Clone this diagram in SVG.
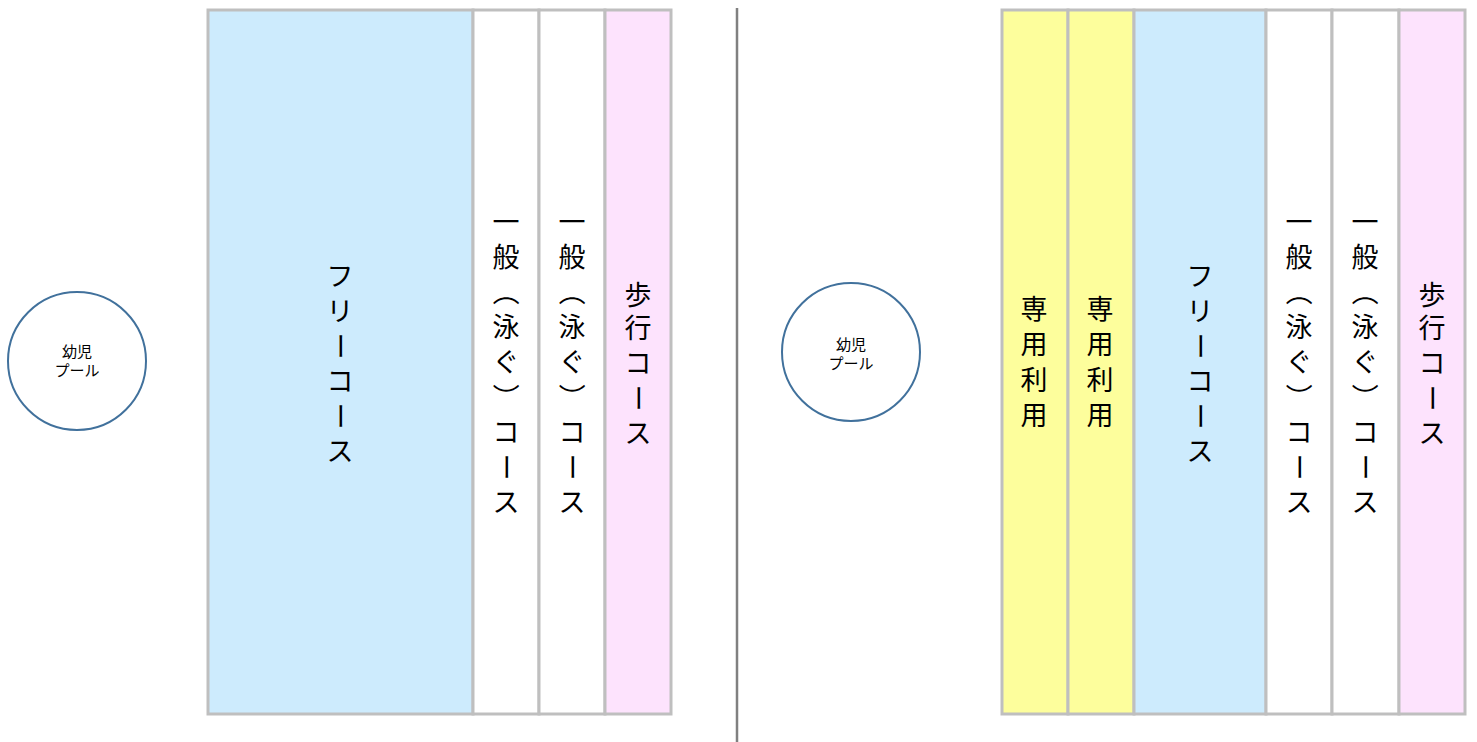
<svg xmlns="http://www.w3.org/2000/svg" width="1477" height="742" viewBox="0 0 1477 742">
<style>
.lane{stroke:#bfbfbf;stroke-width:3}
.blue{fill:#cdebfd}.white{fill:#ffffff}.pink{fill:#fde3fd}.yellow{fill:#fdfe9c}
.c{font-family:"Noto Sans CJK JP","Noto Sans",sans-serif;font-size:27px;fill:#000;text-anchor:middle}
.pool{fill:#fff;stroke:#41719c;stroke-width:2}
.pt{font-family:"Noto Sans CJK JP","Noto Sans",sans-serif;font-size:15px;fill:#000;text-anchor:middle}
</style>
<rect width="1477" height="742" fill="#fff"/>
<g id="left-kids-pool">
<circle class="pool" cx="77" cy="361" r="69"/>
<text class="pt" x="77" y="357">幼児</text>
<text class="pt" x="77" y="376">プール</text>
</g>
<g id="left-free"><rect class="lane blue" x="208" y="10" width="265" height="704"/>
<text class="c" x="340" y="286">フ</text><text class="c" x="340" y="321">リ</text><text class="c" x="340" y="356" transform="rotate(90 340 346)">ー</text><text class="c" x="340" y="391">コ</text><text class="c" x="340" y="426" transform="rotate(90 340 416)">ー</text><text class="c" x="340" y="461">ス</text>
</g>
<g id="left-general1"><rect class="lane white" x="473" y="10" width="66" height="704"/>
<text class="c" x="506" y="232">一</text><text class="c" x="506" y="267">般</text><text class="c" x="506" y="302" transform="rotate(90 506 292)">（</text><text class="c" x="506" y="337">泳</text><text class="c" x="506" y="372">ぐ</text><text class="c" x="506" y="407" transform="rotate(90 506 397)">）</text><text class="c" x="506" y="442">コ</text><text class="c" x="506" y="477" transform="rotate(90 506 467)">ー</text><text class="c" x="506" y="512">ス</text>
</g>
<g id="left-general2"><rect class="lane white" x="539" y="10" width="66" height="704"/>
<text class="c" x="572" y="232">一</text><text class="c" x="572" y="267">般</text><text class="c" x="572" y="302" transform="rotate(90 572 292)">（</text><text class="c" x="572" y="337">泳</text><text class="c" x="572" y="372">ぐ</text><text class="c" x="572" y="407" transform="rotate(90 572 397)">）</text><text class="c" x="572" y="442">コ</text><text class="c" x="572" y="477" transform="rotate(90 572 467)">ー</text><text class="c" x="572" y="512">ス</text>
</g>
<g id="left-walk"><rect class="lane pink" x="605" y="10" width="66" height="704"/>
<text class="c" x="638" y="305">歩</text><text class="c" x="638" y="338">行</text><text class="c" x="638" y="373">コ</text><text class="c" x="638" y="408" transform="rotate(90 638 398)">ー</text><text class="c" x="638" y="443">ス</text>
</g>
<g id="divider"><line x1="737" y1="8" x2="737" y2="742" stroke="#808080" stroke-width="2.5"/></g>
<g id="right-kids-pool">
<circle class="pool" cx="851" cy="352" r="69"/>
<text class="pt" x="851" y="350">幼児</text>
<text class="pt" x="851" y="369">プール</text>
</g>
<g id="right-private1"><rect class="lane yellow" x="1002" y="10" width="66" height="704"/>
<text class="c" x="1034" y="319">専</text><text class="c" x="1034" y="354">用</text><text class="c" x="1034" y="390">利</text><text class="c" x="1034" y="425">用</text>
</g>
<g id="right-private2"><rect class="lane yellow" x="1068" y="10" width="66" height="704"/>
<text class="c" x="1100" y="319">専</text><text class="c" x="1100" y="354">用</text><text class="c" x="1100" y="390">利</text><text class="c" x="1100" y="425">用</text>
</g>
<g id="right-free"><rect class="lane blue" x="1134" y="10" width="132" height="704"/>
<text class="c" x="1200" y="286">フ</text><text class="c" x="1200" y="321">リ</text><text class="c" x="1200" y="356" transform="rotate(90 1200 346)">ー</text><text class="c" x="1200" y="391">コ</text><text class="c" x="1200" y="426" transform="rotate(90 1200 416)">ー</text><text class="c" x="1200" y="461">ス</text>
</g>
<g id="right-general1"><rect class="lane white" x="1266" y="10" width="66" height="704"/>
<text class="c" x="1299" y="232">一</text><text class="c" x="1299" y="267">般</text><text class="c" x="1299" y="302" transform="rotate(90 1299 292)">（</text><text class="c" x="1299" y="337">泳</text><text class="c" x="1299" y="372">ぐ</text><text class="c" x="1299" y="407" transform="rotate(90 1299 397)">）</text><text class="c" x="1299" y="442">コ</text><text class="c" x="1299" y="477" transform="rotate(90 1299 467)">ー</text><text class="c" x="1299" y="512">ス</text>
</g>
<g id="right-general2"><rect class="lane white" x="1332" y="10" width="67" height="704"/>
<text class="c" x="1365" y="232">一</text><text class="c" x="1365" y="267">般</text><text class="c" x="1365" y="302" transform="rotate(90 1365 292)">（</text><text class="c" x="1365" y="337">泳</text><text class="c" x="1365" y="372">ぐ</text><text class="c" x="1365" y="407" transform="rotate(90 1365 397)">）</text><text class="c" x="1365" y="442">コ</text><text class="c" x="1365" y="477" transform="rotate(90 1365 467)">ー</text><text class="c" x="1365" y="512">ス</text>
</g>
<g id="right-walk"><rect class="lane pink" x="1399" y="10" width="66" height="704"/>
<text class="c" x="1432" y="305">歩</text><text class="c" x="1432" y="338">行</text><text class="c" x="1432" y="373">コ</text><text class="c" x="1432" y="408" transform="rotate(90 1432 398)">ー</text><text class="c" x="1432" y="443">ス</text>
</g>
</svg>
